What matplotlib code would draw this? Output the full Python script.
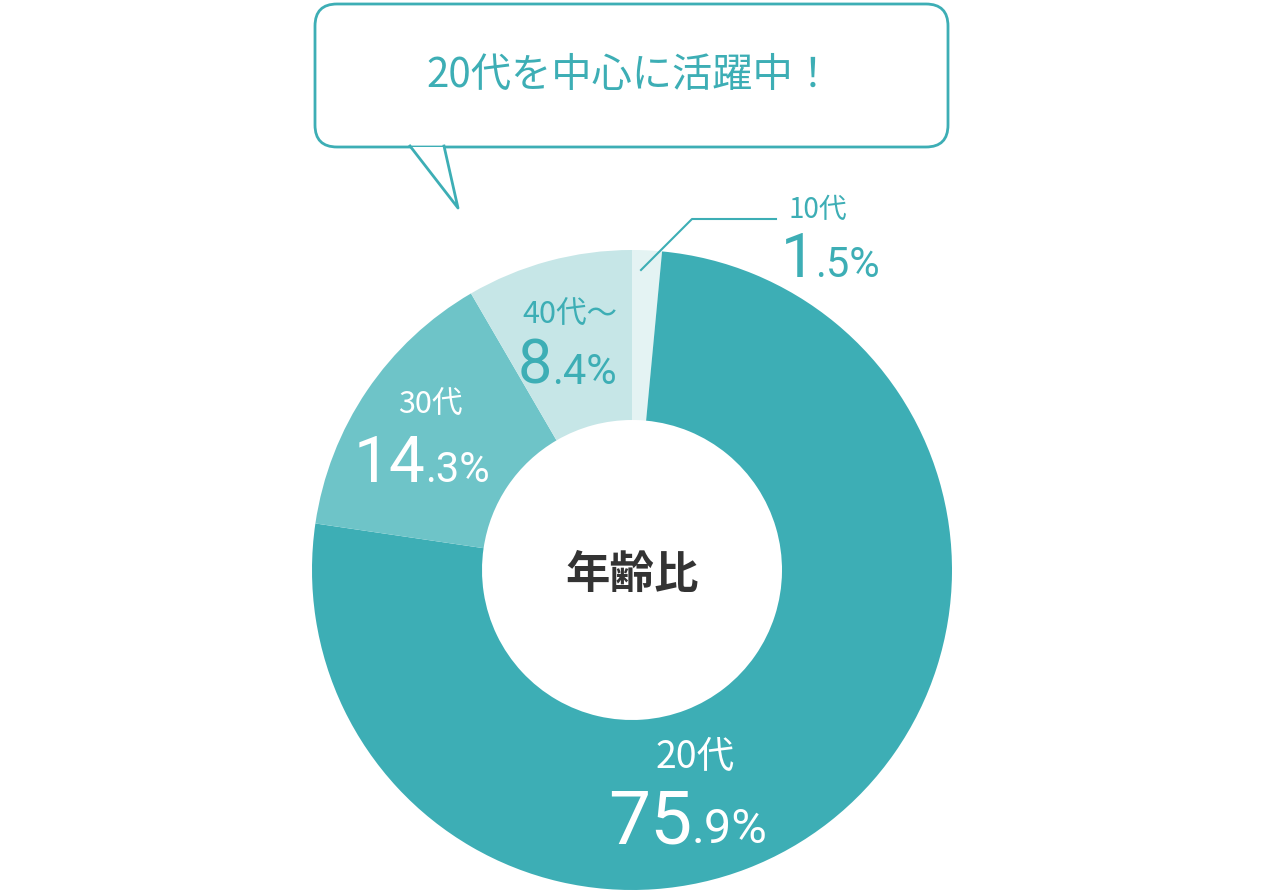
import matplotlib
matplotlib.use("Agg")
import matplotlib.pyplot as plt
from matplotlib.path import Path
from matplotlib.patches import PathPatch, FancyBboxPatch

plt.rcParams['font.family'] = ['Noto Sans CJK JP', 'DejaVu Sans']

# data
ages = ["10代", "20代", "30代", "40代～"]
shares = [1.5, 75.9, 14.3, 8.4]
colors = ["#e4f3f3", "#3daeb5", "#6ec4c8", "#c6e6e7"]
title = "20代を中心に活躍中！"
center_label = "年齢比"

TEAL = "#3daeb5"
W, H = 1265, 890

fig = plt.figure(figsize=(W / 100, H / 100), dpi=100)
ax = fig.add_axes([0, 0, 1, 1])

def Y(py):
    return H - py

ax.pie(shares, colors=colors, startangle=90, counterclock=False,
       center=(632, Y(570)), radius=320,
       wedgeprops=dict(width=170, edgecolor="none"))

ax.text(632, Y(575), center_label, ha="center", va="center",
        fontsize=32, fontweight="bold", color="#333333")

# speech bubble
box = FancyBboxPatch((315, Y(147)), 633, 143,
                     boxstyle="round,pad=0,rounding_size=22",
                     fc="white", ec=TEAL, lw=2)
ax.add_patch(box)
tail = Path([(410, Y(147)), (458, Y(208)), (444, Y(147))],
            [Path.MOVETO, Path.LINETO, Path.LINETO])
ax.add_patch(PathPatch(tail, fc="white", ec="none", zorder=3))
ax.plot([410, 458, 444], [Y(146), Y(208), Y(146)], color=TEAL, lw=2, zorder=4)
ax.text(630, Y(75), title, ha="center", va="center", fontsize=29,
        color=TEAL, zorder=5)

# leader line for 10代
ax.plot([641, 692, 776], [Y(270), Y(219), Y(219)], color=TEAL, lw=1.5)

# label: (name, x_center of name, y of name, big part, small part, split x, baseline, sizes, color)
labels = [
    ("10代", 818, 210, "1", ".5%", 815, 277, 20, 44, 30, TEAL),
    ("20代", 695, 757, "75", ".9%", 692, 843, 27, 54, 35, "white"),
    ("30代", 430, 405, "14", ".3%", 425, 482, 22, 46, 30, "white"),
    ("40代～", 570, 315, "8", ".4%", 552, 384, 22, 44, 30, TEAL),
]
for name, nx, ny, big, small, sx, base, fs_n, fs_b, fs_s, c in labels:
    ax.text(nx, Y(ny), name, ha="center", va="center", fontsize=fs_n, color=c)
    ax.text(sx, Y(base), big, ha="right", va="baseline", fontsize=fs_b,
            color=c, family="Roboto")
    ax.text(sx, Y(base), small, ha="left", va="baseline", fontsize=fs_s,
            color=c, family="Roboto")

ax.set_xlim(0, W)
ax.set_ylim(0, H)
ax.set_aspect("equal")
ax.axis("off")
fig.savefig("out.png", dpi=100, facecolor="white")
